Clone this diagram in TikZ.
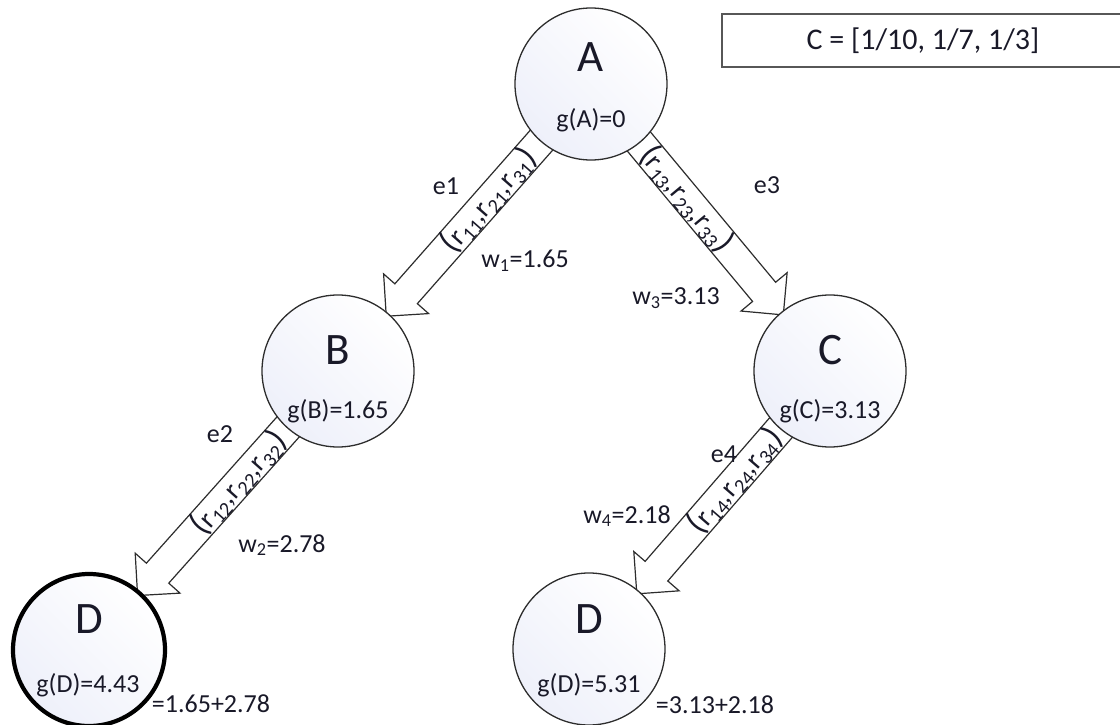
\documentclass[tikz,border=0pt]{standalone}
\usepackage{fontspec}
\setmainfont{Carlito}
\usetikzlibrary{calc,backgrounds}
\definecolor{nodefill}{RGB}{238,240,250}
\definecolor{linec}{RGB}{45,45,45}
\definecolor{txt}{RGB}{25,25,40}
\newcommand\fs[1]{\fontsize{#1}{#1}\selectfont}
\newcommand\rsub[1]{\kern0.5pt\raisebox{-5pt}{\fs{20}#1}\kern0.5pt}
\newcommand\rtriple[3]{{\fs{34}(}r\rsub{#1},r\rsub{#2},r\rsub{#3}{\fs{34})}}
\tikzset{
  state/.style={circle, minimum size=152pt, inner sep=0pt, draw=linec, line width=1.3pt,
                top color=white, bottom color=nodefill, shading angle=-45},
  goal/.style={state, line width=4.2pt, draw=black},
  big/.style={inner sep=0pt, anchor=base, font=\fs{45}, text=txt},
  gtxt/.style={inner sep=0pt, anchor=base, font=\fs{26}, text=txt},
  small/.style={inner sep=0pt, font=\fs{26}, text=txt},
  rlab/.style={inner sep=0pt, font=\fs{28}, text=txt},
  barrow/.style={draw=linec, fill=white, line width=1.2pt, line join=miter},
  boxline/.style={draw=linec!80, line width=2pt},
}
\newcommand\blockarrow[2]{%
  \draw[barrow] let \p1=(#1.center), \p2=($(#2.center)!73pt!(#1.center)$),
      \n1={atan2(\y2-\y1,\x2-\x1)} in
    ($(\p1)+(\n1+90:15pt)$) --
    ($(\p2)+(\n1:-30pt)+(\n1+90:15pt)$) --
    ($(\p2)+(\n1:-30pt)+(\n1+90:30pt)$) --
    (\p2) --
    ($(\p2)+(\n1:-30pt)+(\n1-90:30pt)$) --
    ($(\p2)+(\n1:-30pt)+(\n1-90:15pt)$) --
    ($(\p1)+(\n1-90:15pt)$) -- cycle;}
\begin{document}
\begin{tikzpicture}[x=1pt,y=-1pt]
\useasboundingbox (0,0) rectangle (1120,725);
\clip (0,0) rectangle (1120,725);

% nodes
\node[state] (A) at (591,84) {};
\node[state] (B) at (338,371) {};
\node[state] (C) at (830,371) {};
\node[goal]  (D1) at (89,650) {};
\node[state] (D2) at (589,649) {};

% block arrows (behind the nodes)
\begin{scope}[on background layer]
  \blockarrow{A}{B}
  \blockarrow{A}{C}
  \blockarrow{B}{D1}
  \blockarrow{C}{D2}
\end{scope}

% arrow inner labels
\path (A.center) -- node[sloped, pos=.405, rlab] (t1) {\rtriple{11}{21}{31}} (B.center);
\path (A.center) -- node[sloped, pos=.40, rlab] (t3) {\rtriple{13}{23}{33}} (C.center);
\path (B.center) -- node[sloped, pos=.40, rlab] (t2) {\rtriple{12}{22}{32}} (D1.center);
\path (C.center) -- node[sloped, pos=.395, rlab] (t4) {\rtriple{14}{24}{34}} (D2.center);

% node texts
\node[big] (Al) at (591,72) {A};
\node[gtxt] (Ag) at (591,128) {g(A)=0};
\node[big] (Bl) at (338,364) {B};
\node[gtxt] (Bg) at (338,418) {g(B)=1.65};
\node[big] (Cl) at (830,364) {C};
\node[gtxt] (Cg) at (830,418) {g(C)=3.13};
\node[big] (D1l) at (89,633) {D};
\node[gtxt] (D1g) at (88,692) {g(D)=4.43};
\node[big] (D2l) at (589,633) {D};
\node[gtxt] (D2g) at (589,692) {g(D)=5.31};

% edge names and weights
\node[small] (e1) at (446,186) {e1};
\node[small] (e3) at (767,185) {e3};
\node[small] (e2) at (220,434) {e2};
\node[small] (e4) at (724,454) {e4};
\node[small] (w1) at (525,261) {w\textsubscript{1}=1.65};
\node[small] (w3) at (676,298) {w\textsubscript{3}=3.13};
\node[small] (w2) at (282,545) {w\textsubscript{2}=2.78};
\node[small] (w4) at (627,516) {w\textsubscript{4}=2.18};
\node[small] (s1) at (211,704) {=1.65+2.78};
\node[small] (s2) at (715,705) {=3.13+2.18};

% cost box
\draw[boxline] (722,14) rectangle (1140,67);
\node[inner sep=0pt, font=\fs{30}, text=txt] (cbox) at (923,41) {C = [1/10, 1/7, 1/3]};
\end{tikzpicture}
\end{document}
